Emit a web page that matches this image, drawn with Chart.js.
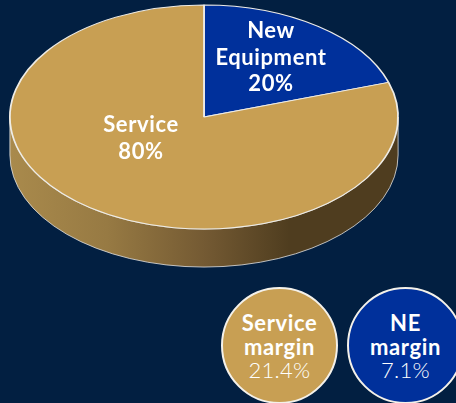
<!DOCTYPE html>
<html>
<head>
<meta charset="utf-8">
<script src="https://cdn.jsdelivr.net/npm/chart.js@4/dist/chart.umd.min.js"></script>
<style>
  html, body { margin: 0; padding: 0; background: #021f41; overflow: hidden; }
  #wrap { position: relative; width: 456px; height: 403px; overflow: hidden; font-family: Lato, "Open Sans", sans-serif; color: #fff; }
  canvas { position: absolute; left: 0; top: 0; }
  .label { position: absolute; transform: translateX(-50%); text-align: center; font-weight: 700; font-size: 22px; line-height: 26.5px; letter-spacing: 0.6px; white-space: nowrap; }
  .bubble { position: absolute; box-sizing: border-box; width: 117px; height: 117px; top: 287px; border: 2px solid #f4f1ea; border-radius: 50%; text-align: center; font-size: 22px; line-height: 23.5px; padding-top: 22px; letter-spacing: 0.6px; }
  .bubble b { display: block; font-weight: 700; }
  .bubble span { display: block; font-weight: 300; line-height: 23px; font-size: 22px; letter-spacing: 0.3px; }
</style>
</head>
<body>
<div id="wrap">
  <canvas id="pie" width="456" height="403"></canvas>
</div>
<script>
// values
const sliceLabels = ['New Equipment', 'Service'];
const sliceValues = [20, 80];
const sliceColors = ['#00309b', '#c89f53'];
const marginNames = ['Service margin', 'NE margin'];
const marginValues = ['21.4%', '7.1%'];
const marginColors = ['#c89f53', '#00309b'];

const TILT = 112 / 194;   // ellipse height / width
const TOP_CY = 117;       // where the pie top sits on the page
const DEPTH = 38;         // thickness of the pie

// Squash the flat pie into an ellipse and draw the rim below it
const tiltPlugin = {
  id: 'tilt',
  beforeDatasetsDraw(chart) {
    const ctx = chart.ctx;
    const arc = chart.getDatasetMeta(0).data[0];
    const rx = arc.outerRadius, ry = rx * TILT;

    const grad = ctx.createLinearGradient(arc.x - rx, 0, arc.x + rx, 0);
    grad.addColorStop(0, '#a98a4c');
    grad.addColorStop(0.25, '#977a43');
    grad.addColorStop(0.5, '#745a33');
    grad.addColorStop(0.72, '#4f3d1f');
    grad.addColorStop(1, '#4f3d1f');

    ctx.beginPath();
    ctx.ellipse(arc.x, TOP_CY, rx, ry, 0, 0, Math.PI);
    ctx.ellipse(arc.x, TOP_CY + DEPTH, rx, ry, 0, Math.PI, 0, true);
    ctx.closePath();
    ctx.fillStyle = grad;
    ctx.fill();
    ctx.strokeStyle = 'rgba(225,225,225,0.8)';
    ctx.lineWidth = 1;
    ctx.stroke();

    ctx.save();
    ctx.translate(0, TOP_CY - arc.y * TILT);
    ctx.scale(1, TILT);
  },
  afterDatasetsDraw(chart) {
    chart.ctx.restore();
  }
};

new Chart(document.getElementById('pie'), {
  type: 'pie',
  data: {
    labels: sliceLabels,
    datasets: [{
      data: sliceValues,
      backgroundColor: sliceColors,
      borderColor: '#eeece6',
      borderWidth: 1.8,
      hoverOffset: 0
    }]
  },
  options: {
    responsive: false,
    animation: false,
    layout: { padding: { left: 9, right: 57, top: 7, bottom: 6 } },
    plugins: { legend: { display: false }, tooltip: { enabled: false } }
  },
  plugins: [tiltPlugin]
});

// text on the slices
const wrap = document.getElementById('wrap');
function addLabel(lines, x, y) {
  const el = document.createElement('div');
  el.className = 'label';
  el.style.left = x + 'px';
  el.style.top = y + 'px';
  el.innerHTML = lines.join('<br>');
  wrap.appendChild(el);
}
addLabel(['New', 'Equipment', sliceValues[0] + '%'], 271, 17);
addLabel(['Service', sliceValues[1] + '%'], 141, 111);

// margin bubbles
[221, 347].forEach((x, i) => {
  const el = document.createElement('div');
  el.className = 'bubble';
  el.style.left = x + 'px';
  el.style.background = marginColors[i];
  const words = marginNames[i].split(' ');
  el.innerHTML = '<b>' + words.join('</b><b>') + '</b><span>' + marginValues[i] + '</span>';
  wrap.appendChild(el);
});
</script>
</body>
</html>
